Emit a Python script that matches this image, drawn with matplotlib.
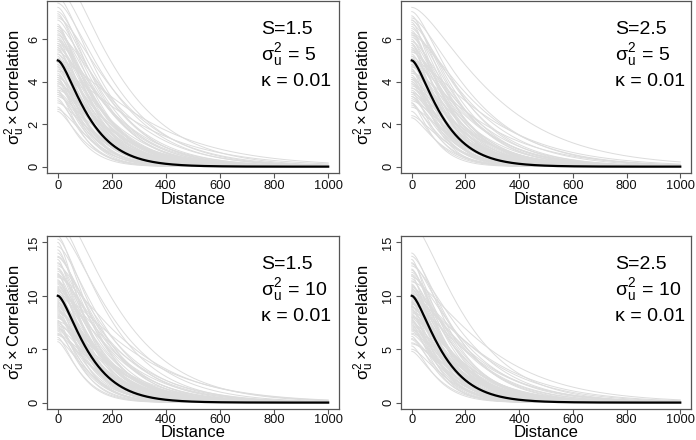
import math
import numpy as np
import matplotlib
matplotlib.use("Agg")
import matplotlib.pyplot as plt

plt.rcParams['font.family'] = ['Liberation Sans', 'DejaVu Sans']
plt.rcParams['mathtext.fontset'] = 'custom'
plt.rcParams['mathtext.rm'] = 'Liberation Sans'
plt.rcParams['mathtext.it'] = 'Liberation Sans'
plt.rcParams['mathtext.bf'] = 'Liberation Sans:bold'

# ---------------- data ----------------
x_ticks = [0, 200, 400, 600, 800, 1000]
panel_S = ["1.5", "2.5", "1.5", "2.5"]
panel_sigma2 = [5, 5, 10, 10]
panel_kappa = ["0.01", "0.01", "0.01", "0.01"]
y_ticks_top = [0, 2, 4, 6]
y_ticks_bottom = [0, 5, 10, 15]
y_max_top = 7.5
y_max_bottom = 15.0

# true curve: scale (1/kappa, effective) of the Matern (nu = 1) covariance
true_scale = 85.0

# sampled curves: variance (value at distance 0) and scale (1/kappa), per panel
amp1 = [2.6, 2.7, 2.8, 3.0, 3.1, 3.2, 3.3, 3.4, 3.5, 3.5, 3.6, 3.7, 3.8, 3.8, 3.9,
        4.0, 4.0, 4.1, 4.2, 4.2, 4.3, 4.4, 4.5, 4.5, 4.6, 4.7, 4.8, 4.8, 4.9, 5.0,
        5.0, 5.1, 5.2, 5.3, 5.3, 5.4, 5.5, 5.6, 5.6, 5.7, 5.8, 5.9, 6.0, 6.0, 6.1,
        6.2, 6.3, 6.4, 6.5, 6.6, 6.7, 6.9, 7.0, 7.2, 7.3, 7.5, 7.7, 8.0, 8.4, 9.4,
        3.4, 3.9, 4.3, 4.7, 5.1, 5.5, 5.8, 6.2, 6.6, 7.1, 4.1, 4.9, 5.7, 6.4, 3.6]
scl1 = [72, 91, 62, 110, 78, 68, 124, 85, 75, 101, 62, 114, 81, 94, 137,
        72, 104, 87, 120, 65, 98, 78, 215, 91, 110, 73, 124, 86, 101, 81,
        228, 94, 70, 114, 88, 153, 99, 78, 124, 107, 91, 137, 83, 117, 101,
        163, 94, 127, 109, 146, 88, 122, 169, 104, 135, 117, 153, 130, 156, 166,
        96, 118, 84, 132, 108, 92, 142, 112, 98, 128, 76, 140, 118, 106, 150]

amp2 = [2.3, 2.4, 2.6, 2.8, 2.9, 3.0, 3.1, 3.2, 3.3, 3.4, 3.5, 3.5, 3.6, 3.7, 3.8,
        3.9, 3.9, 4.0, 4.1, 4.2, 4.2, 4.3, 4.4, 4.5, 4.5, 4.6, 4.7, 4.8, 4.8, 4.9,
        5.0, 5.1, 5.2, 5.2, 5.3, 5.4, 5.5, 5.6, 5.6, 5.7, 5.8, 5.9, 6.0, 6.1, 6.2,
        6.3, 6.4, 6.5, 6.6, 6.7, 6.8, 6.9, 7.0, 7.1, 7.3, 7.5, 3.0, 4.6, 5.8, 6.2,
        3.3, 3.7, 4.1, 4.4, 4.8, 5.1, 5.4, 5.9, 6.3, 6.9, 4.0, 4.7, 5.5, 3.5, 5.0]
scl2 = [78, 98, 68, 117, 83, 73, 130, 91, 81, 107, 65, 120, 86, 99, 143,
        75, 109, 91, 125, 70, 101, 81, 195, 94, 114, 75, 127, 88, 104, 83,
        208, 96, 73, 117, 91, 156, 101, 81, 125, 109, 94, 140, 86, 120, 104,
        166, 96, 130, 112, 148, 91, 125, 172, 107, 138, 218, 59, 62, 72, 182,
        100, 122, 88, 136, 110, 95, 146, 115, 100, 132, 80, 142, 120, 108, 152]

amp3 = [5.7, 5.9, 6.1, 6.3, 6.5, 6.7, 6.9, 7.1, 7.3, 7.5, 7.7, 7.9, 8.1, 8.3, 8.5,
        8.7, 8.9, 9.1, 9.3, 9.5, 9.7, 9.9, 10.1, 10.3, 10.5, 10.7, 10.9, 11.1, 11.3, 11.5,
        11.7, 11.9, 12.1, 12.3, 12.5, 12.8, 13.1, 13.4, 13.7, 14.0, 14.3, 14.6, 15.0, 15.3, 15.6,
        16.2, 17.0, 18.5, 6.4, 7.2, 8.0, 8.8, 9.6, 10.4, 11.2, 12.0, 13.0, 7.6, 9.0, 10.0,
        6.8, 7.4, 8.2, 8.6, 9.2, 9.8, 10.6, 11.4, 12.6, 13.6, 7.0, 8.4, 9.4, 10.8, 11.8]
scl3 = [65, 88, 60, 109, 75, 68, 120, 83, 73, 99, 62, 112, 81, 91, 133,
        70, 104, 86, 117, 65, 96, 78, 208, 91, 109, 73, 122, 86, 101, 81,
        195, 94, 70, 114, 88, 151, 99, 78, 122, 107, 91, 135, 83, 117, 101,
        159, 143, 169, 127, 146, 109, 86, 122, 166, 104, 135, 117, 153, 130, 156,
        96, 118, 84, 132, 108, 92, 142, 112, 98, 128, 76, 140, 118, 106, 150]

amp4 = [4.8, 5.0, 5.3, 5.6, 5.9, 6.2, 6.5, 6.7, 6.9, 7.1, 7.3, 7.5, 7.7, 7.9, 8.1,
        8.3, 8.5, 8.7, 8.9, 9.1, 9.3, 9.5, 9.7, 9.9, 10.1, 10.3, 10.5, 10.7, 10.9, 11.1,
        11.3, 11.6, 11.9, 12.2, 12.5, 12.8, 13.1, 13.4, 13.7, 14.0, 16.8, 6.0, 7.0, 8.0, 9.0,
        10.0, 11.0, 8.4, 9.6, 10.8, 7.4, 6.8, 9.2, 10.4, 5.5, 12.0, 8.8, 7.8, 9.4, 10.2,
        6.4, 7.2, 8.2, 8.6, 9.0, 9.8, 10.6, 11.4, 12.4, 13.0, 7.6, 8.0, 9.4, 10.0, 11.8]
scl4 = [73, 94, 65, 114, 81, 70, 127, 88, 78, 104, 65, 117, 83, 96, 140,
        73, 107, 88, 122, 68, 99, 78, 195, 91, 112, 75, 125, 88, 104, 83,
        205, 96, 73, 117, 91, 153, 101, 81, 125, 109, 150, 94, 86, 120, 104,
        164, 96, 130, 112, 146, 91, 125, 169, 107, 138, 114, 62, 68, 78, 182,
        98, 120, 86, 134, 110, 94, 144, 114, 100, 130, 78, 142, 118, 106, 150]

panel_amps = [amp1, amp2, amp3, amp4]
panel_scls = [scl1, scl2, scl3, scl4]

# ---------------- Matern (nu = 1) covariance ----------------
_t = np.linspace(0.0, 18.0, 4001)
_cosh = np.cosh(_t)


def matern_corr(x, nu=1.0):
    x = np.atleast_1d(np.asarray(x, dtype=float))
    out = np.ones_like(x)
    pos = x > 0
    xp = x[pos]
    integrand = np.exp(-xp[:, None] * _cosh[None, :]) * np.cosh(nu * _t)[None, :]
    kv = np.trapezoid(integrand, _t, axis=1)
    out[pos] = 2 ** (1 - nu) / math.gamma(nu) * xp ** nu * kv
    return out


def cov(d, variance, scale):
    return variance * matern_corr(d / scale)


dist = np.linspace(0, 1000, 401)

W, H = 696, 440
fig = plt.figure(figsize=(W / 100, H / 100), dpi=100)

# axes boxes in pixels: left, top, right, bottom
boxes = [(47, 1, 339, 173), (401, 1, 691, 173),
         (47, 236, 339, 409), (401, 236, 691, 409)]
xlab_off = [19, 19, 16, 16]
ylab_off = [32, 37, 32, 37]

frame_col = '#555555'
for i, (l, t, r, b) in enumerate(boxes):
    ax = fig.add_axes([l / W, 1 - b / H, (r - l) / W, (b - t) / H])
    top_row = i < 2
    ymax = y_max_top if top_row else y_max_bottom
    for a, sc in zip(panel_amps[i], panel_scls[i]):
        ax.plot(dist, cov(dist, a, sc), color='#DCDCDC', lw=0.7)
    ax.plot(dist, cov(dist, panel_sigma2[i], true_scale), color='black', lw=1.6)
    ax.set_xlim(-40, 1040)
    ax.set_ylim(-0.04 * ymax, 1.04 * ymax)
    ax.set_xticks(x_ticks)
    ax.set_yticks(y_ticks_top if top_row else y_ticks_bottom)
    for s in ax.spines.values():
        s.set_color(frame_col)
        s.set_linewidth(0.9)
    ax.tick_params(direction='out', length=3.5, width=0.8, color=frame_col,
                   labelsize=9.3, labelcolor='#111111')
    ax.tick_params(axis='x', pad=1.5 if top_row else 0.3)
    ax.tick_params(axis='y', pad=1.3)
    for lab in ax.get_yticklabels():
        lab.set_rotation(90)
        lab.set_va('center')
    ax.set_xlabel('Distance', fontsize=12, va='top')
    ax.xaxis.set_label_coords(0.5, -float(xlab_off[i]) / (b - t))
    ax.set_ylabel(r'$\sigma_u^2\times$Correlation', fontsize=12, va='center')
    ax.yaxis.set_label_coords(-float(ylab_off[i]) / (r - l), 0.5)

    tx = (214.0) / (r - l)
    base = 33
    ax.text(tx, (b - t - base) / (b - t), 'S=' + panel_S[i],
            transform=ax.transAxes, fontsize=14, va='baseline', ha='left')
    ax.text(tx, (b - t - base - 26) / (b - t),
            r'$\sigma_u^2$ = %d' % panel_sigma2[i],
            transform=ax.transAxes, fontsize=14, va='baseline', ha='left')
    ax.text(tx, (b - t - base - 52) / (b - t),
            '\u03ba = ' + panel_kappa[i],
            transform=ax.transAxes, fontsize=14, va='baseline', ha='left')

fig.savefig('out.png', dpi=100)
